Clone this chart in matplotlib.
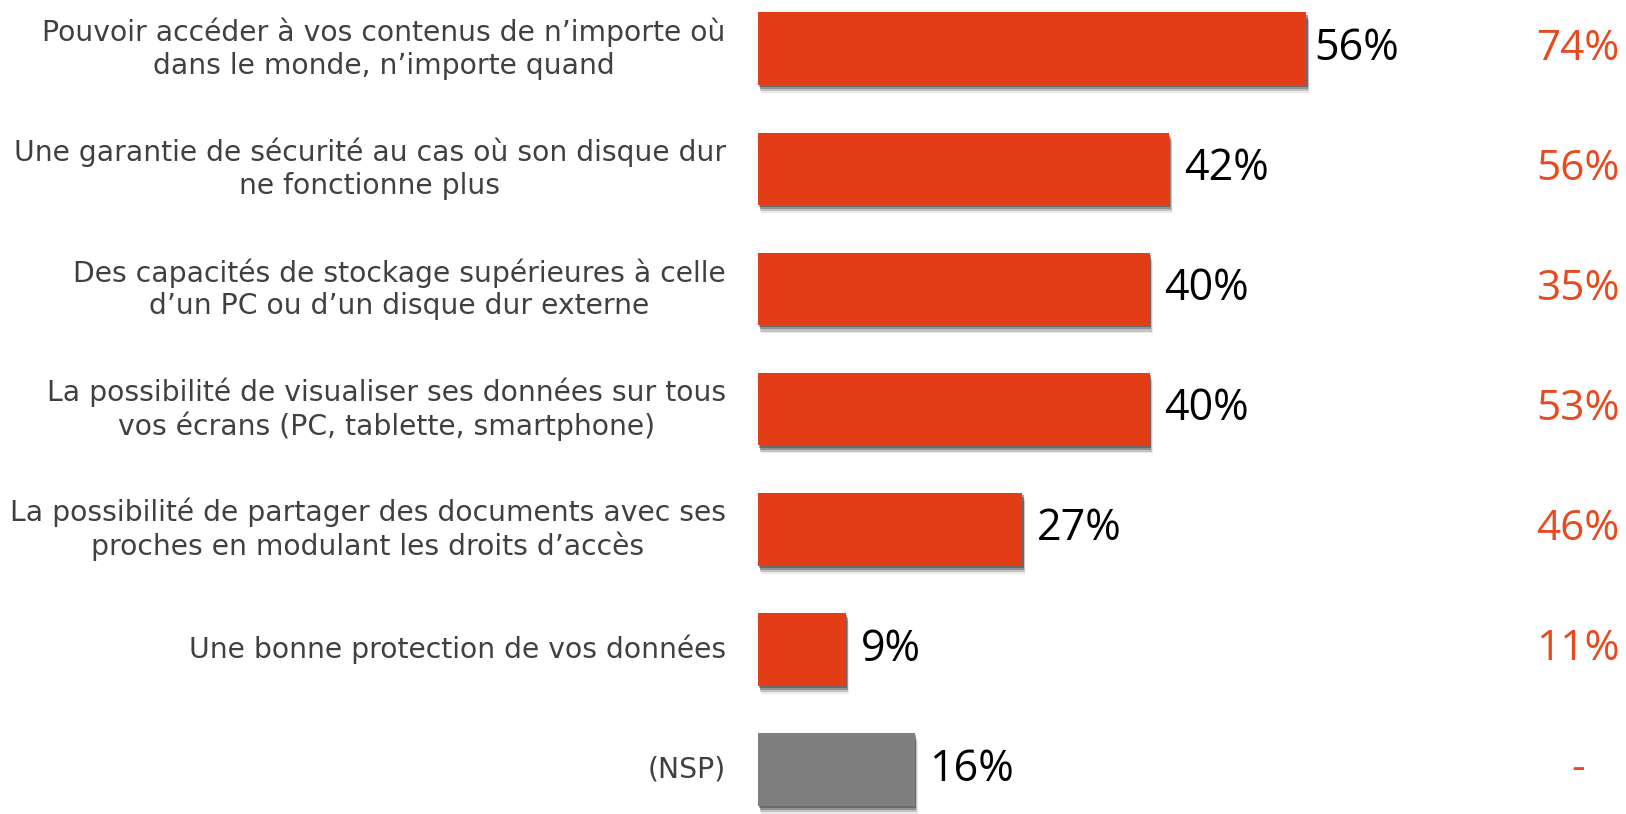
import matplotlib
matplotlib.use("Agg")
import matplotlib.pyplot as plt
import matplotlib.patheffects as pe

categories = [
    "Pouvoir accéder à vos contenus de n’importe où\ndans le monde, n’importe quand",
    "Une garantie de sécurité au cas où son disque dur\nne fonctionne plus",
    "Des capacités de stockage supérieures à celle\nd’un PC ou d’un disque dur externe",
    "La possibilité de visualiser ses données sur tous\nvos écrans (PC, tablette, smartphone)",
    "La possibilité de partager des documents avec ses\nproches en modulant les droits d’accès",
    "Une bonne protection de vos données",
    "(NSP)",
]
values = [56, 42, 40, 40, 27, 9, 16]
compare_labels = ["74%", "56%", "35%", "53%", "46%", "11%", "-"]

orange = "#E33D16"
grey = "#7F7F7F"
colors = [orange] * 6 + [grey]

fig = plt.figure(figsize=(16.26, 8.14), dpi=100)
ax = fig.add_axes([0.4662, 0, 0.530, 1])

y = list(range(len(values)))

# soft drop shadow, a few stacked offsets
shadow = []
for off, a in [((0.8, -1.5), 0.45), ((1.2, -3.0), 0.35), ((1.6, -4.5), 0.22), ((2.0, -5.8), 0.1)]:
    shadow.append(pe.SimplePatchShadow(offset=off, shadow_rgbFace="#3a3a3a", alpha=a))
shadow.append(pe.Normal())

bars = ax.barh(y, values, height=0.605, color=colors, edgecolor="none")
for b in bars:
    b.set_path_effects(shadow)

for yi, v in zip(y, values):
    pad = 0.8 if v > 50 else 1.5
    ax.text(v + pad, yi, f"{v}%", va="center", ha="left", fontsize=31,
            family="Open Sans", color="black")

for yi, lab in zip(y, categories):
    ax.text(-3.3, yi, lab, va="center", ha="right", multialignment="center",
            fontsize=20.3, color="#404040", family="DejaVu Sans", linespacing=1.2)

for yi, lab in zip(y, compare_labels):
    ax.text(83.7, yi, lab, va="center", ha="center", fontsize=30.5,
            family="Open Sans", color="#E84A1F")

ax.set_xlim(0, 88)
ax.set_ylim(6.371, -0.406)
ax.axis("off")

fig.savefig("out.png", dpi=100)
